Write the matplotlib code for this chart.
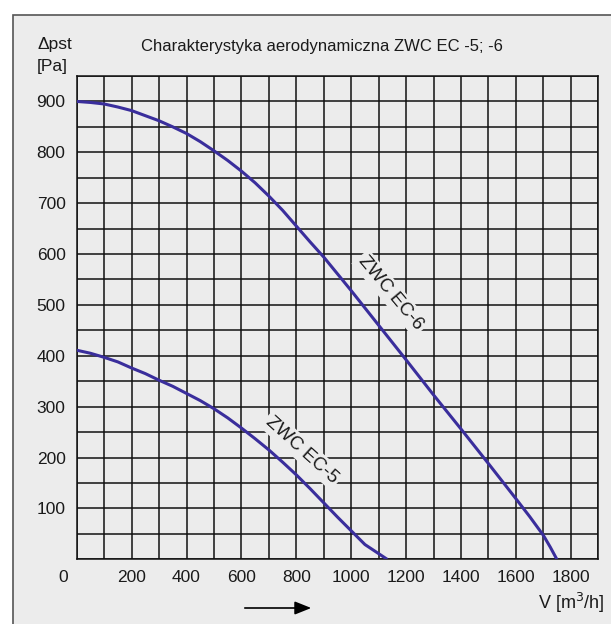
import matplotlib.pyplot as plt
from matplotlib.patches import Rectangle, FancyArrowPatch
import numpy as np

plt.rcParams['font.family'] = ['Liberation Sans', 'DejaVu Sans']

v6 = [0, 50, 100, 150, 200, 250, 300, 350, 400, 450, 500, 550, 600, 650, 700, 750, 800, 850, 900,
      1000, 1100, 1200, 1300, 1400, 1500, 1600, 1650, 1700, 1725, 1749]
p6 = [900, 898, 895, 889, 882, 872, 862, 850, 837, 821, 803, 784, 763, 740, 714, 686, 655, 624, 594,
      528, 460, 392, 323, 256, 188, 119, 84, 47, 24, 0]
v5 = [0, 50, 100, 150, 200, 250, 300, 350, 400, 450, 500, 550, 600, 650, 700, 750, 800, 850, 900,
      950, 1000, 1050, 1131]
p5 = [411, 405, 397, 388, 376, 365, 352, 340, 326, 312, 296, 278, 258, 237, 215, 191, 166, 139, 111,
      83, 56, 29, 0]
xlabels = ['', '', '200', '', '400', '', '600', '', '800', '', '1000', '', '1200', '', '1400', '', '1600', '', '1800', '']
ylabels = ['', '', '100', '', '200', '', '300', '', '400', '', '500', '', '600', '', '700', '', '800', '', '900', '']

bg = '#ececec'
blue = '#3a2e9c'
txt = '#1a1a1a'

fig = plt.figure(figsize=(6.11, 6.24), dpi=100)
fig.patch.set_facecolor('white')
fig.patches.append(Rectangle((13 / 611, -0.1), 1.1, 1 - 15 / 624 + 0.1, transform=fig.transFigure,
                             facecolor=bg, edgecolor='#555555', linewidth=1.2, zorder=-10))

ax = fig.add_axes([76.7 / 611, 1 - 559.3 / 624, (598.3 - 76.7) / 611, (559.3 - 76) / 624])
ax.set_facecolor(bg)
ax.set_xlim(0, 1900)
ax.set_ylim(0, 950)
ax.set_xticks(np.arange(0, 1901, 100))
ax.set_xticklabels(xlabels)
ax.set_yticks(np.arange(0, 951, 50))
ax.set_yticklabels(ylabels)
ax.tick_params(length=0, labelsize=12.5, pad=8, colors=txt)
ax.grid(True, color='#111111', linewidth=1.1)
for s in ax.spines.values():
    s.set_color('#111111')
    s.set_linewidth(1.1)

ax.plot(v6, p6, color=blue, linewidth=2.2, zorder=3, solid_capstyle='butt', solid_joinstyle='round')
ax.plot(v5, p5, color=blue, linewidth=2.2, zorder=3, solid_capstyle='butt', solid_joinstyle='round')

box = dict(facecolor=bg, edgecolor='none', pad=2)
ax.text(1145, 523, 'ZWC EC-6', rotation=-50, ha='center', va='center', fontsize=13.5,
        color=txt, bbox=box, zorder=4)
ax.text(821, 215, 'ZWC EC-5', rotation=-42, ha='center', va='center', fontsize=13.5,
        color=txt, bbox=box, zorder=4)

ax.annotate('0', xy=(0, 0), xytext=(-10, -8), textcoords='offset points', ha='center', va='top',
            fontsize=12.5, color=txt, annotation_clip=False)

fig.text(322 / 611, 1 - 47 / 624, 'Charakterystyka aerodynamiczna ZWC EC -5; -6', ha='center', va='center',
         fontsize=12, color=txt)
fig.text(37 / 611, 1 - 45 / 624, '\u0394pst', ha='left', va='center', fontsize=12.5, color=txt)
fig.text(37 / 611, 1 - 66 / 624, '[Pa]', ha='left', va='center', fontsize=12.5, color=txt)
fig.text(604 / 611, 1 - 603 / 624, 'V [m$^3$/h]', ha='right', va='center', fontsize=13, color=txt)
fig.patches.append(FancyArrowPatch(
    (242 / 611, 1 - 608 / 624), (314 / 611, 1 - 608 / 624), transform=fig.transFigure,
    arrowstyle='-|>,head_length=10,head_width=4', color='black', linewidth=1.2, mutation_scale=1))

fig.savefig('out.png', dpi=100, facecolor=fig.get_facecolor())
